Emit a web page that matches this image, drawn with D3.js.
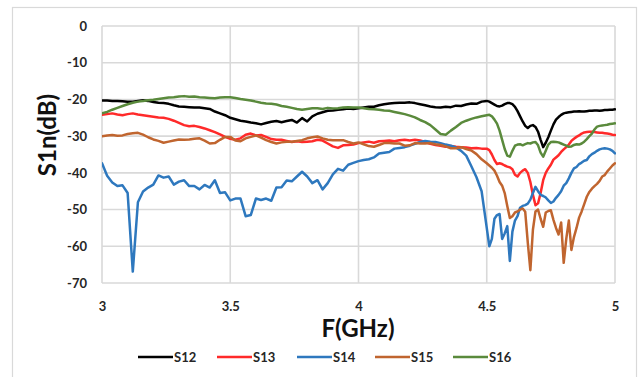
<!DOCTYPE html>
<html>
<head>
<meta charset="utf-8">
<script src="https://cdn.jsdelivr.net/npm/d3@7"></script>
<style>
  html, body { margin: 0; padding: 0; background: #ffffff; }
  svg { display: block; }
  .tick text { font-family: Lato, "Open Sans", sans-serif; font-weight: 700; font-size: 13px; fill: #262626; }
</style>
</head>
<body>
<svg id="chart" width="640" height="377"></svg>
<script>
// Frequency samples (GHz): 0.02 GHz steps up to 4.48, 0.01 GHz steps in the resonance band.
const freq = [
  3.00,3.02,3.04,3.06,3.08,3.10,3.12,3.14,3.16,3.18,
  3.20,3.22,3.24,3.26,3.28,3.30,3.32,3.34,3.36,3.38,
  3.40,3.42,3.44,3.46,3.48,3.50,3.52,3.54,3.56,3.58,
  3.60,3.62,3.64,3.66,3.68,3.70,3.72,3.74,3.76,3.78,
  3.80,3.82,3.84,3.86,3.88,3.90,3.92,3.94,3.96,3.98,
  4.00,4.02,4.04,4.06,4.08,4.10,4.12,4.14,4.16,4.18,
  4.20,4.22,4.24,4.26,4.28,4.30,4.32,4.34,4.36,4.38,
  4.40,4.42,4.44,4.46,4.48,
  4.50,4.51,4.52,4.53,4.54,4.55,4.56,4.57,4.58,4.59,
  4.60,4.61,4.62,4.63,4.64,4.65,4.66,4.67,4.68,4.69,
  4.70,4.71,4.72,4.73,4.74,4.75,4.76,4.77,4.78,4.79,
  4.80,4.81,4.82,4.83,4.84,4.85,4.86,4.87,4.88,4.89,
  4.90,4.91,4.92,4.93,4.94,4.95,4.96,4.97,4.98,4.99,
  5.00
];

// Measured coupling S1n (dB) for each port
const s12 = [
  -20.3,-20.3,-20.4,-20.4,-20.5,-20.6,-20.6,-20.4,-20.2,-20.4,
  -20.7,-20.9,-21.0,-21.2,-21.6,-21.9,-22.0,-22.1,-22.2,-22.2,
  -22.4,-22.6,-23.3,-23.8,-24.3,-25.0,-25.4,-25.8,-26.0,-26.3,
  -26.5,-26.8,-26.4,-26.1,-25.9,-26.2,-25.9,-25.6,-26.3,-25.1,
  -26.0,-24.6,-23.9,-23.5,-23.1,-23.0,-22.8,-22.7,-22.5,-22.6,
  -22.4,-22.2,-22.0,-22.0,-21.6,-21.3,-21.1,-21.0,-20.9,-20.9,
  -20.8,-21.0,-21.3,-21.6,-21.9,-22.1,-22.2,-22.0,-22.1,-21.7,
  -21.8,-21.4,-21.1,-21.2,-20.6,
  -20.4,-20.6,-21.0,-21.4,-21.8,-21.9,-21.7,-21.3,-21.0,-21.0,
  -21.3,-22.0,-23.2,-24.6,-26.0,-27.2,-27.8,-27.2,-27.0,-27.5,
  -28.8,-31.0,-33.0,-31.8,-30.3,-28.5,-26.8,-25.5,-24.8,-24.2,
  -23.8,-23.6,-23.5,-23.4,-23.3,-23.3,-23.2,-23.3,-23.3,-23.2,
  -23.1,-23.1,-23.0,-23.0,-23.1,-23.0,-22.9,-22.9,-22.8,-22.8,
  -22.7
];

const s13 = [
  -24.2,-24.0,-23.8,-24.1,-24.3,-24.0,-23.8,-24.1,-24.3,-24.5,
  -24.7,-24.9,-25.0,-25.3,-25.8,-26.4,-27.0,-27.3,-27.2,-27.5,
  -27.9,-28.4,-28.9,-29.5,-30.2,-30.7,-31.0,-30.6,-29.6,-29.3,
  -29.8,-29.7,-30.2,-30.8,-31.0,-31.0,-31.3,-31.6,-31.4,-31.6,
  -31.5,-31.4,-31.0,-31.2,-32.0,-32.8,-33.2,-32.5,-32.4,-32.3,
  -31.9,-31.7,-31.5,-31.8,-31.4,-31.3,-31.2,-31.4,-31.1,-31.0,
  -31.2,-31.0,-31.2,-31.6,-32.1,-32.4,-32.6,-32.9,-32.7,-32.9,
  -33.0,-33.1,-33.3,-33.2,-33.4,
  -33.4,-33.8,-35.0,-36.5,-37.6,-37.4,-37.6,-38.0,-38.3,-38.5,
  -39.0,-40.5,-41.0,-40.0,-39.4,-39.0,-40.0,-42.5,-46.0,-48.8,
  -48.3,-45.5,-42.0,-40.0,-38.8,-37.8,-36.4,-35.8,-35.2,-34.3,
  -33.6,-33.0,-32.3,-31.3,-30.7,-30.2,-29.8,-29.3,-29.0,-28.9,
  -28.8,-28.8,-28.9,-29.0,-29.1,-29.1,-29.2,-29.3,-29.4,-29.6,
  -29.7
];

const s14 = [
  -37.4,-40.8,-42.6,-43.6,-43.4,-45.5,-66.9,-48.0,-45.1,-44.0,
  -43.2,-40.7,-41.3,-41.0,-43.2,-42.4,-42.0,-43.6,-43.6,-44.5,
  -43.3,-44.0,-42.0,-45.5,-45.3,-47.5,-47.0,-47.0,-51.8,-51.5,
  -47.0,-47.4,-47.0,-47.6,-44.0,-43.9,-42.1,-42.3,-41.0,-39.7,
  -41.0,-42.8,-42.0,-44.5,-42.8,-40.4,-38.9,-39.4,-37.8,-37.3,
  -36.8,-36.5,-36.3,-35.8,-34.7,-34.5,-34.3,-33.4,-33.2,-33.0,
  -32.6,-32.1,-31.6,-31.3,-31.5,-31.6,-31.9,-32.3,-32.6,-33.1,
  -34.0,-35.3,-38.2,-41.2,-45.0,
  -55.0,-60.0,-58.0,-52.5,-51.5,-51.2,-58.0,-56.5,-54.5,-64.0,
  -56.0,-53.0,-51.8,-49.5,-49.0,-48.8,-48.4,-47.3,-45.5,-43.8,
  -45.0,-46.0,-46.3,-46.7,-47.5,-48.2,-47.8,-46.8,-46.0,-45.0,
  -43.5,-42.8,-41.5,-40.0,-38.8,-38.4,-37.6,-37.2,-36.7,-36.5,
  -35.5,-34.9,-34.5,-34.0,-33.6,-33.4,-33.3,-33.4,-33.6,-34.0,
  -34.7
];

const s15 = [
  -30.0,-29.8,-29.7,-29.9,-29.8,-29.4,-29.2,-29.1,-29.6,-30.3,
  -30.9,-31.3,-31.8,-31.5,-31.2,-30.9,-31.0,-30.9,-30.7,-30.6,
  -31.2,-32.0,-31.9,-31.0,-30.2,-30.2,-31.2,-31.4,-30.6,-30.2,
  -29.8,-30.4,-31.1,-31.6,-32.0,-31.7,-31.5,-31.5,-31.3,-31.1,
  -30.6,-30.3,-30.1,-30.6,-31.0,-31.1,-31.1,-31.1,-31.6,-32.0,
  -31.7,-32.2,-32.7,-32.9,-32.4,-31.9,-31.9,-32.0,-32.0,-32.6,
  -32.5,-31.9,-32.0,-32.0,-31.9,-32.2,-32.4,-32.8,-33.3,-33.3,
  -33.0,-33.5,-33.9,-34.9,-36.3,
  -37.4,-38.0,-38.6,-39.4,-40.8,-42.5,-43.5,-45.5,-49.0,-52.3,
  -51.8,-50.8,-50.5,-50.0,-49.7,-50.6,-59.0,-66.5,-55.5,-50.5,
  -50.0,-52.5,-54.7,-50.8,-50.4,-50.2,-52.8,-55.0,-56.8,-53.5,
  -64.5,-58.0,-53.0,-61.0,-57.5,-55.0,-52.2,-50.5,-48.5,-46.5,
  -45.2,-44.3,-43.6,-43.0,-42.2,-41.0,-40.6,-39.6,-38.8,-38.0,
  -37.4
];

const s16 = [
  -23.8,-23.4,-22.8,-22.3,-21.8,-21.3,-20.9,-20.6,-20.4,-20.2,
  -20.1,-19.9,-19.7,-19.5,-19.4,-19.2,-19.1,-19.3,-19.2,-19.4,
  -19.5,-19.6,-19.7,-19.5,-19.4,-19.4,-19.6,-19.9,-20.1,-20.3,
  -20.6,-20.9,-21.1,-21.2,-21.4,-21.8,-22.0,-22.3,-22.6,-22.8,
  -22.6,-22.4,-22.4,-22.6,-22.3,-22.5,-22.4,-22.2,-22.1,-22.2,
  -22.2,-22.4,-22.6,-22.7,-22.8,-23.0,-23.1,-23.4,-23.7,-24.0,
  -24.4,-24.9,-25.6,-26.2,-27.0,-28.2,-29.4,-29.6,-28.5,-27.5,
  -26.4,-25.8,-25.3,-24.9,-24.6,
  -24.3,-24.2,-24.6,-25.5,-26.6,-28.5,-31.0,-33.5,-35.3,-35.6,
  -34.0,-32.6,-32.3,-32.2,-32.5,-32.2,-31.9,-32.0,-31.7,-31.6,
  -32.5,-34.5,-35.6,-34.0,-32.3,-31.6,-31.5,-31.6,-31.7,-32.0,
  -32.3,-32.6,-32.9,-32.8,-32.4,-32.2,-32.3,-32.0,-31.5,-30.8,
  -30.0,-29.3,-28.2,-27.4,-27.2,-27.1,-27.0,-26.9,-26.7,-26.6,
  -26.5
];

const seriesNames = ["S12", "S13", "S14", "S15", "S16"];
const seriesValues = [s12, s13, s14, s15, s16];
const seriesColors = ["#000000", "#ff2a2a", "#2e78be", "#c0652f", "#5a8a3c"];

const xTicks = [3, 3.5, 4, 4.5, 5];
const xTickLabels = ["3", "3.5", "4", "4.5", "5"];
const yTicks = [0, -10, -20, -30, -40, -50, -60, -70];
const yTickLabels = ["0", "-10", "-20", "-30", "-40", "-50", "-60", "-70"];

const xTitle = "F(GHz)";
const yTitle = "S1n(dB)";

// ---- layout ----
const plot = { left: 102, top: 26, right: 615, bottom: 283 };
const gridColor = "#d9d9d9";
const font = "Lato, 'Open Sans', sans-serif";

const svg = d3.select("#chart");

// chart area frame
svg.append("rect")
  .attr("x", 12.5).attr("y", 7.5)
  .attr("width", 624).attr("height", 380)
  .attr("fill", "#ffffff")
  .attr("stroke", gridColor).attr("stroke-width", 1.2);

const x = d3.scaleLinear().domain([3, 5]).range([plot.left, plot.right]);
const y = d3.scaleLinear().domain([-70, 0]).range([plot.bottom, plot.top]);

// gridlines
const grid = svg.append("g");
grid.selectAll("line.h").data(yTicks).join("line")
  .attr("x1", plot.left).attr("x2", plot.right)
  .attr("y1", d => y(d)).attr("y2", d => y(d))
  .attr("stroke", gridColor).attr("stroke-width", 1.6);
grid.selectAll("line.v").data(xTicks).join("line")
  .attr("x1", d => x(d)).attr("x2", d => x(d))
  .attr("y1", plot.top).attr("y2", plot.bottom)
  .attr("stroke", gridColor).attr("stroke-width", 1.6);

// axes (labels only)
const yAxis = d3.axisLeft(y).tickValues(yTicks).tickSize(0).tickPadding(15)
  .tickFormat((d, i) => yTickLabels[i]);
svg.append("g").attr("transform", `translate(${plot.left},0)`).call(yAxis)
  .call(g => g.select(".domain").remove());

const xAxis = d3.axisBottom(x).tickValues(xTicks).tickSize(0).tickPadding(19)
  .tickFormat((d, i) => xTickLabels[i]);
svg.append("g").attr("transform", `translate(0,${plot.bottom})`).call(xAxis)
  .call(g => g.select(".domain").remove());

// series lines
svg.append("clipPath").attr("id", "plotClip")
  .append("rect")
  .attr("x", plot.left).attr("y", plot.top - 2)
  .attr("width", plot.right - plot.left + 1).attr("height", plot.bottom - plot.top + 2);

const line = d3.line()
  .x(d => x(d[0]))
  .y(d => y(d[1]));

const lines = svg.append("g").attr("clip-path", "url(#plotClip)");
seriesValues.forEach((vals, i) => {
  const pts = freq.map((f, j) => [f, vals[j]]);
  lines.append("path")
    .datum(pts)
    .attr("d", line)
    .attr("fill", "none")
    .attr("stroke", seriesColors[i])
    .attr("stroke-width", 2.5)
    .attr("stroke-linejoin", "round")
    .attr("stroke-linecap", "round");
});

// axis titles
svg.append("text")
  .attr("x", 358).attr("y", 337)
  .attr("text-anchor", "middle")
  .attr("font-family", font).attr("font-weight", 700).attr("font-size", 24)
  .attr("fill", "#111111")
  .text(xTitle);

svg.append("text")
  .attr("transform", "translate(56,135) rotate(-90)")
  .attr("text-anchor", "middle")
  .attr("font-family", font).attr("font-weight", 700).attr("font-size", 24)
  .attr("fill", "#111111")
  .text(yTitle);

// legend
const legendX = [138, 217, 297, 375, 453];
const legend = svg.append("g");
seriesNames.forEach((name, i) => {
  const g = legend.append("g").attr("transform", `translate(${legendX[i]},357)`);
  g.append("line")
    .attr("x1", 0).attr("x2", 35).attr("y1", 0).attr("y2", 0)
    .attr("stroke", seriesColors[i]).attr("stroke-width", 2.6);
  g.append("text")
    .attr("x", 36).attr("y", 5)
    .attr("font-family", font).attr("font-weight", 700).attr("font-size", 13)
    .attr("fill", "#262626")
    .text(name);
});
</script>
</body>
</html>
